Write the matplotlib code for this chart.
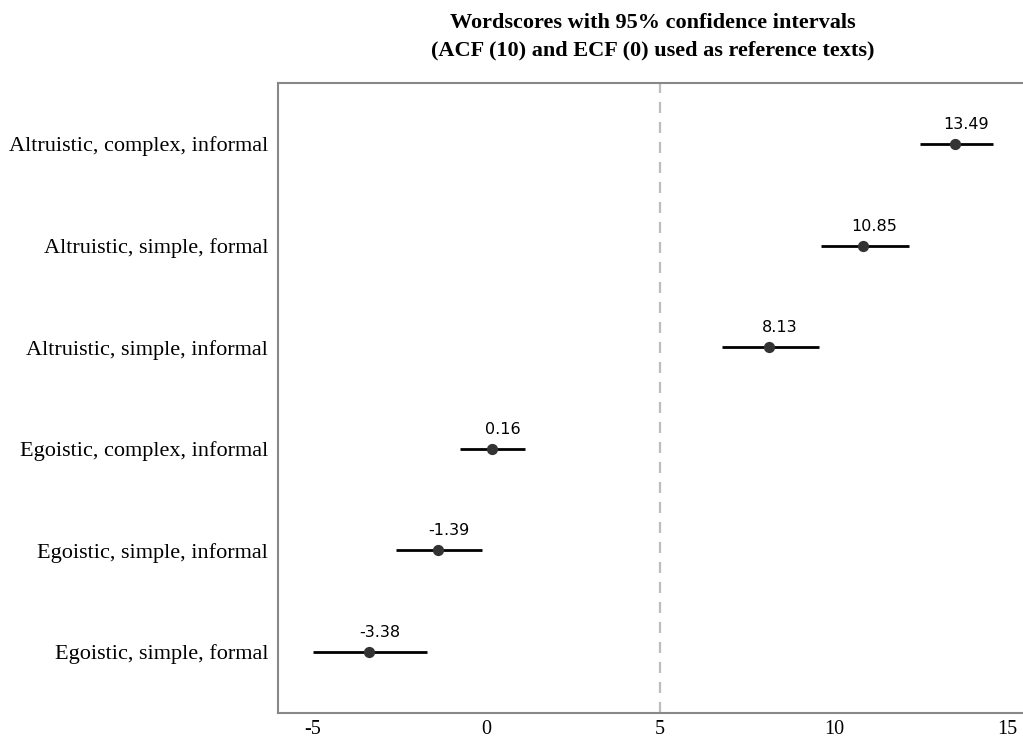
import matplotlib.pyplot as plt

# data, bottom row first
groups = ["Egoistic, simple, formal", "Egoistic, simple, informal",
          "Egoistic, complex, informal", "Altruistic, simple, informal",
          "Altruistic, simple, formal", "Altruistic, complex, informal"]
scores = [-3.38, -1.39, 0.16, 8.13, 10.85, 13.49]
lower = [-4.99, -2.59, -0.75, 6.77, 9.63, 12.48]
upper = [-1.70, -0.12, 1.12, 9.57, 12.16, 14.58]
midpoint = 5

fig = plt.figure(figsize=(10.23, 7.40), dpi=100)
ax = fig.add_axes([278/1023, 1 - 713/740, 1 - 278/1023 + 0.002, (713 - 83)/740])

ypos = list(range(len(groups)))
ax.axvline(midpoint, color="#bdbdbd", lw=1.6, ls=(0, (5, 4)), zorder=1)
ax.hlines(ypos, lower, upper, color="black", lw=2, zorder=2)
ax.scatter(scores, ypos, s=50, color="#333333", zorder=3)
for x, y in zip(scores, ypos):
    ax.annotate(f"{x:.2f}", (x, y), xytext=(7.5, 14), textcoords="offset points",
                ha="center", va="center", fontsize=11.5, family="DejaVu Sans")

ax.set_xlim(-6.0, 15.5)
ax.set_ylim(-0.6, 5.6)
ax.set_yticks(ypos)
ax.set_yticklabels(groups, family="Liberation Serif", fontsize=16)
ax.set_xticks([-5, 0, 5, 10, 15])
ax.set_xticklabels(["-5", "0", "5", "10", "15"], family="Liberation Serif", fontsize=14.5)
ax.tick_params(axis="y", length=0, pad=7)
ax.tick_params(axis="x", length=0, pad=5)

for side in ["left", "top", "bottom"]:
    ax.spines[side].set_color("#888888")
    ax.spines[side].set_linewidth(1.5)
ax.spines["right"].set_visible(False)

fig.text(653/1023, 1 - 37/740,
         "Wordscores with 95% confidence intervals\n(ACF (10) and ECF (0) used as reference texts)",
         ha="center", va="center", family="Liberation Serif", fontweight="bold",
         fontsize=16, linespacing=1.5)

fig.savefig("out.png", dpi=100)
